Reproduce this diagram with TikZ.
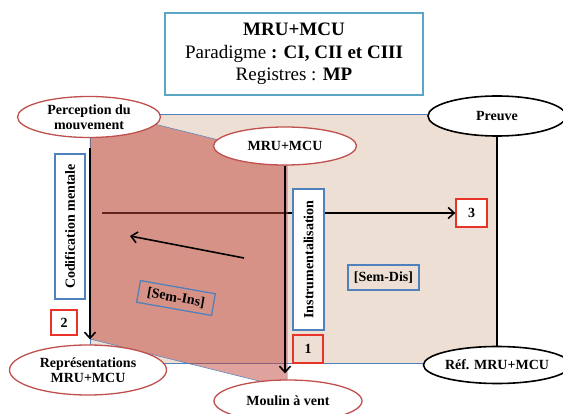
\documentclass[tikz,border=0pt]{standalone}
\usepackage{fontspec}
\setmainfont{Liberation Serif}
\usetikzlibrary{shapes.geometric,arrows.meta}
\definecolor{titleblue}{RGB}{91,166,196}
\definecolor{boxblue}{RGB}{79,129,189}
\definecolor{ellred}{RGB}{192,80,77}
\definecolor{numred}{RGB}{232,52,40}
\definecolor{tanbg}{RGB}{237,223,211}
\definecolor{planered}{RGB}{192,70,60}
\tikzset{
  redell/.style={ellipse, draw=ellred, line width=1.3pt, fill=white, align=center, inner sep=0pt, font=\bfseries\fontsize{14}{14.5}\selectfont},
  blackell/.style={redell, draw=black, line width=1.6pt},
  bluebox/.style={draw=boxblue, line width=1.3pt, inner sep=0pt, font=\bfseries\fontsize{14}{15}\selectfont},
  numbox/.style={draw=numred, line width=1.3pt, inner sep=0pt, font=\bfseries\fontsize{14}{15}\selectfont},
  arr/.style={line width=1.6pt, -{Straight Barb[length=6pt,width=11pt]}},
}
\begin{document}
\begin{tikzpicture}[x=1pt, y=-1pt]
    \useasboundingbox (0,0) rectangle (563,414);
    % Plan Sem-Dis
    \draw[boxblue, line width=0.5pt, fill=tanbg] (90,114) rectangle (497,363);
    \coordinate (hstart) at (102,213);
    \node[numbox, fill=white, minimum width=31, minimum height=28] (n3) at (471.5,213) {3};
    \draw[arr] (hstart) -- (n3);

    % Plan Sem-Ins
    \fill[planered, opacity=0.5] (90,108) -- (287,157) -- (287,388) -- (90,339) -- cycle;
    \draw[boxblue, line width=0.5pt] (90,108) -- (287,157) -- (287,388) -- (90,339) -- cycle;

    % Titre
    \node[draw=titleblue, line width=1.5pt, fill=white, minimum width=258, minimum height=82, align=center, font=\fontsize{19}{22.5}\selectfont] (title) at (294,54) {\textbf{MRU+MCU}\\Paradigme \textbf{: CI, CII et CIII}\\Registres : \textbf{MP}};

    % Ellipses
    \node[redell, minimum width=143, minimum height=41] (perc) at (89,117) {Perception du\\mouvement};
    \node[blackell, minimum width=138, minimum height=40] (preuve) at (497,116) {Preuve};
    \node[redell, minimum width=143, minimum height=38] (mru) at (285,146) {MRU+MCU};
    \node[redell, minimum width=157, minimum height=50] (repr) at (88,370) {Représentations\\MRU+MCU};
    \node[blackell, minimum width=140, minimum height=37] (ref) at (497,365) {Réf. MRU+MCU};
    \node[redell, minimum width=148, minimum height=42] (moulin) at (288,401) {Moulin à vent};

    % Liaisons
    \draw[arr, shorten <=10pt, shorten >=5pt] ([xshift=1pt]perc.south) -- ([xshift=1pt]perc.south |- repr.north);
    \draw[arr, shorten >=6pt] (mru.south) -- (mru.south |- moulin.north);
    \draw[line width=1.6pt] (preuve.south) -- (ref.north);
    \coordinate (dstart) at (244,258);
    \coordinate (dend) at (130,236);
    \draw[arr] (dstart) -- (dend);

    % Cadres
    \node[bluebox, fill=white, rotate=90, minimum width=145, minimum height=30] (codif) at (70,226.5) {Codification mentale};
    \node[bluebox, fill=white, rotate=90, minimum width=141, minimum height=31] (instr) at (308.5,259.5) {Instrumentalisation};
    \node[bluebox, rotate=-10, minimum width=76, minimum height=22] (semins) at (176,298) {[Sem-Ins]};
    \node[bluebox, minimum width=71, minimum height=25] (semdis) at (383.5,277.5) {[Sem-Dis]};
    \node[numbox, minimum width=30, minimum height=28] (n1) at (308,349) {1};
    \node[numbox, fill=white, minimum width=26, minimum height=25] (n2) at (64,322.5) {2};
\end{tikzpicture}
\end{document}
